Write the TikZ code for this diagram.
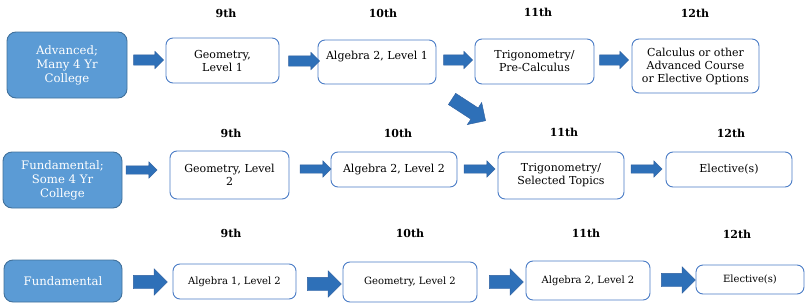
\documentclass[tikz,border=0pt]{standalone}
\usepackage{fontspec}
\setmainfont{DejaVu Serif}
\usetikzlibrary{shapes.arrows}
\definecolor{leftfill}{HTML}{5B9BD5}
\definecolor{leftborder}{HTML}{41719C}
\definecolor{boxborder}{HTML}{4A7CC6}
\definecolor{arrowfill}{HTML}{2E70B8}
\definecolor{arrowborder}{HTML}{2F5F9F}
\tikzset{
  trackbox/.style={draw=leftborder, fill=leftfill, line width=0.9pt, rounded corners=9pt,
    text=white, align=center, font=\fontsize{11.7}{14}\selectfont, inner sep=1pt},
  coursebox/.style={draw=boxborder, fill=white, line width=0.9pt, rounded corners=7pt,
    text=black, align=center, font=\fontsize{11}{13}\selectfont, inner sep=1pt},
  smallcourse/.style={coursebox, font=\fontsize{10}{12.5}\selectfont},
  grade/.style={font=\bfseries\fontsize{11}{12}\selectfont, text=black, inner sep=0pt},
  blockarrow/.style n args={3}{single arrow, draw=arrowborder, fill=arrowfill, line width=0.4pt,
    inner sep=0pt, inner ysep=#2, single arrow head extend=#3, single arrow tip angle=90,
    single arrow head indent=0pt, minimum height=#1, outer sep=0pt},
}
\begin{document}
\begin{tikzpicture}[x=1pt,y=-1pt]
\useasboundingbox (0,0) rectangle (809,308);
% ---------- row 1
\node[trackbox, minimum width=120pt, minimum height=66pt] (adv) at (67,65) {Advanced;\\Many 4 Yr\\College};
\node[coursebox, minimum width=113pt, minimum height=45pt] (g1) at (222.5,60.5) {Geometry,\\Level 1};
\node[coursebox, minimum width=118pt, minimum height=44pt] (a1) at (377,62) {Algebra 2, Level 1\\\mbox{}};
\node[coursebox, minimum width=119pt, minimum height=45pt] (t1) at (534.5,61.5) {Trigonometry/\\Pre-Calculus};
\node[coursebox, minimum width=127pt, minimum height=54pt] (c1) at (695.5,66) {Calculus or other\\Advanced Course\\or Elective Options};
\node[grade] (r1n) at (226,13) {9th};
\node[grade] (r1t) at (383,13) {10th};
\node[grade] (r1e) at (538,12) {11th};
\node[grade] (r1w) at (695,13) {12th};
\node[blockarrow={30pt}{5pt}{3.5pt}] (ar11) at (146,60) {};
\node[blockarrow={31pt}{5pt}{3.5pt}] (ar12) at (301.5,61) {};
\node[blockarrow={29pt}{5pt}{3.5pt}] (ar13) at (455.5,60) {};
\node[blockarrow={29pt}{5pt}{3.5pt}] (ar14) at (611.5,60) {};
% diagonal arrow
\node[blockarrow={40pt}{6.5pt}{6.5pt}, rotate=-33] (diag) at (466,108) {};
% ---------- row 2
\node[trackbox, minimum width=119pt, minimum height=56pt] (fs) at (62.5,180) {Fundamental;\\Some 4 Yr\\College};
\node[coursebox, minimum width=119pt, minimum height=48pt] (g2) at (229.5,175) {Geometry, Level\\2};
\node[coursebox, minimum width=126pt, minimum height=35pt] (a2) at (394,169.5) {Algebra 2, Level 2};
\node[coursebox, minimum width=126pt, minimum height=47pt] (t2) at (561,175.5) {Trigonometry/\\Selected Topics};
\node[coursebox, minimum width=126pt, minimum height=35pt] (e2) at (729,169.5) {Elective(s)};
\node[grade] (r2n) at (231,133) {9th};
\node[grade] (r2t) at (398,133) {10th};
\node[grade] (r2e) at (564,132) {11th};
\node[grade] (r2w) at (731,133) {12th};
\node[blockarrow={31pt}{4pt}{4pt}] (ar21) at (139.5,170) {};
\node[blockarrow={31pt}{4pt}{4pt}] (ar22) at (313.5,169) {};
\node[blockarrow={31pt}{4pt}{4pt}] (ar23) at (477.5,169) {};
\node[blockarrow={31pt}{4pt}{4pt}] (ar24) at (644.5,169) {};
% ---------- row 3
\node[trackbox, minimum width=118pt, minimum height=42pt] (fu) at (63,281) {Fundamental};
\node[smallcourse, minimum width=123pt, minimum height=35pt] (a3) at (234.5,281.5) {Algebra 1, Level 2};
\node[smallcourse, minimum width=134pt, minimum height=40pt] (g3) at (410,282) {Geometry, Level 2};
\node[smallcourse, minimum width=124pt, minimum height=39pt] (b3) at (588,280.5) {Algebra 2, Level 2};
\node[smallcourse, minimum width=108pt, minimum height=29pt] (e3) at (750,279.5) {Elective(s)};
\node[grade] (r3n) at (231,233) {9th};
\node[grade] (r3t) at (410,233) {10th};
\node[grade] (r3e) at (586,233) {11th};
\node[grade] (r3w) at (737,234) {12th};
\node[blockarrow={34pt}{6.5pt}{6.5pt}] (ar31) at (147,282) {};
\node[blockarrow={34pt}{6.5pt}{6.5pt}] (ar32) at (321,284) {};
\node[blockarrow={34pt}{6.5pt}{6.5pt}] (ar33) at (503,282) {};
\node[blockarrow={34pt}{6.5pt}{6.5pt}] (ar34) at (675,280) {};
\end{tikzpicture}
\end{document}
